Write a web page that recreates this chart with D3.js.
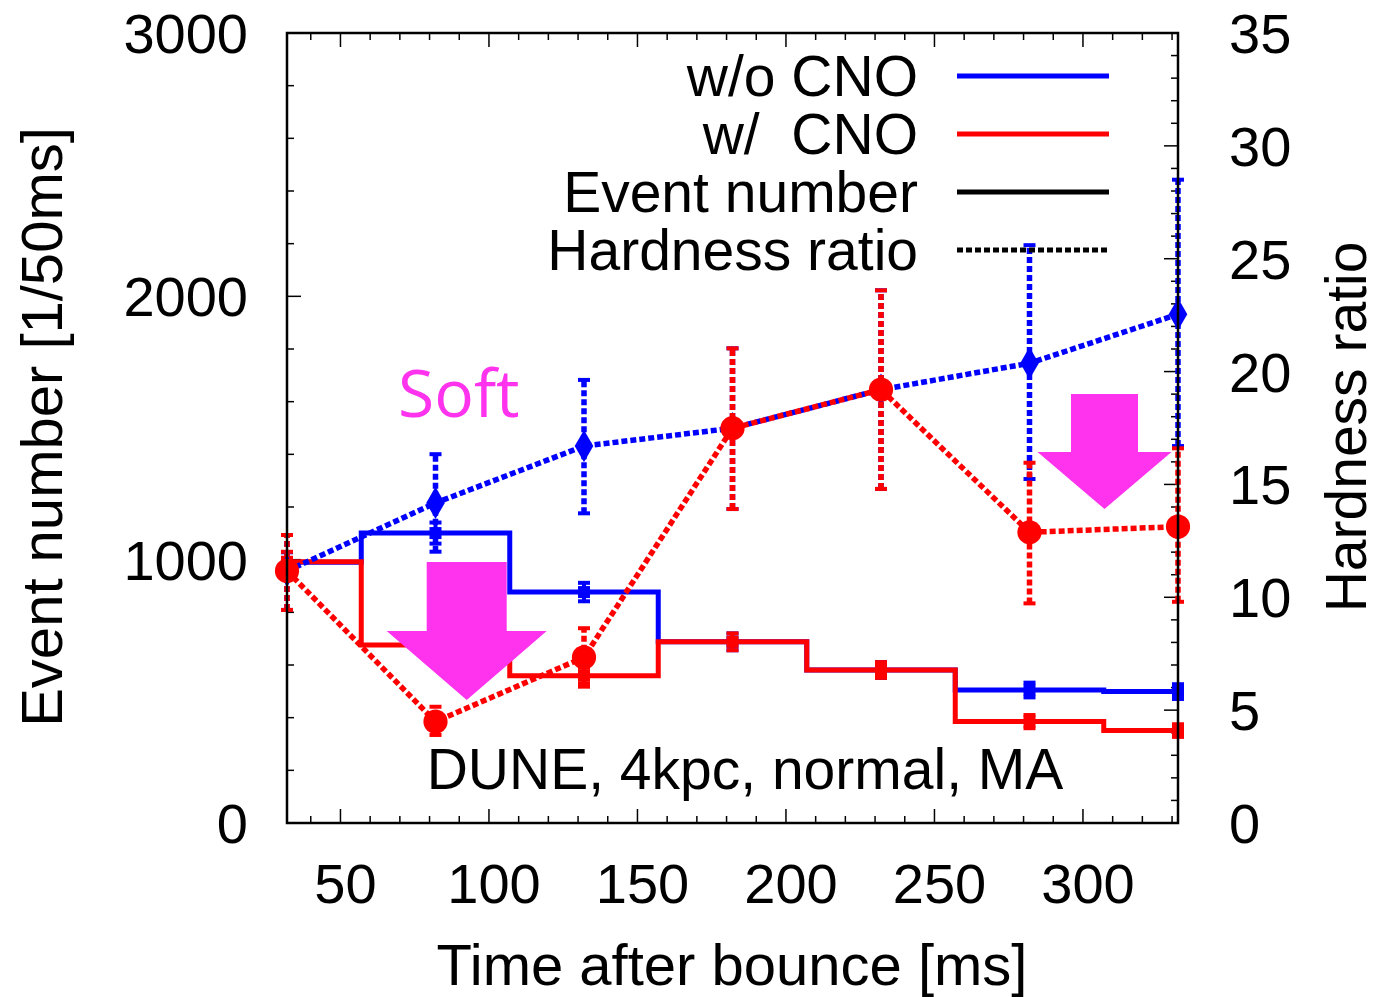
<!DOCTYPE html>
<html>
<head>
<meta charset="utf-8">
<script src="https://cdn.jsdelivr.net/npm/d3@7"></script>
<style>
  body { margin: 0; background: #fff; }
  svg { display: block; font-family: "Liberation Sans", Arial, sans-serif; }
  text { white-space: pre; }
</style>
</head>
<body>
<svg id="chart" width="1379" height="997"></svg>
<script>
// time after bounce (bin centres, ms)
const times = [32, 82, 132, 182, 232, 282, 332];

// event number per 50 ms
const eventsNoCNO = [990, 1101, 877, 688, 581, 505, 499];
const eventsNoCNOErr = [38, 40, 35, 32, 30, 28, 28];
const eventsCNO = [992, 676, 559, 688, 581, 385, 351];
const eventsCNOErr = [38, 32, 30, 32, 30, 25, 24];

// hardness ratio with lower / upper error ends
const hardNoCNO = [11.17, 14.18, 16.7, 17.49, 19.2, 20.37, 22.54];
const hardNoCNOLo = [9.44, 12.02, 13.72, 13.91, 14.8, 15.24, 16.7];
const hardNoCNOHi = [12.76, 16.34, 19.63, 21.03, 23.6, 25.6, 28.5];
const hardCNO = [11.17, 4.49, 7.34, 17.49, 19.2, 12.88, 13.13];
const hardCNOLo = [9.44, 3.9, 6.04, 13.91, 14.8, 9.73, 9.8];
const hardCNOHi = [12.76, 5.15, 8.63, 21.03, 23.6, 15.96, 16.6];

const xTicks = [50, 100, 150, 200, 250, 300];
const yLeftTicks = [0, 1000, 2000, 3000];
const yRightTicks = [0, 5, 10, 15, 20, 25, 30, 35];

const legendItems = ["w/o CNO", "w/  CNO", "Event number", "Hardness ratio"];

const margin = { top: 33, right: 201, bottom: 174, left: 287 };
const width = 1379, height = 997;
const BLUE = "#0000ff", RED = "#ff0000", MAGENTA = "#ff33ee";

const svg = d3.select("#chart");

const x = d3.scaleLinear().domain([32, 332]).range([margin.left, width - margin.right]);
const yL = d3.scaleLinear().domain([0, 3000]).range([height - margin.bottom, margin.top]);
const yR = d3.scaleLinear().domain([0, 35]).range([height - margin.bottom, margin.top]);

const x0 = x.range()[0], x1 = x.range()[1];
const yTop = yL.range()[1], yBot = yL.range()[0];

// ticks (inward)
const tickG = svg.append("g").attr("stroke", "#000").attr("stroke-width", 1.5);
d3.range(40, 331, 10).forEach(t => {
  const len = t % 50 === 0 ? 14 : 7;
  tickG.append("line").attr("x1", x(t)).attr("x2", x(t)).attr("y1", yBot).attr("y2", yBot - len);
  tickG.append("line").attr("x1", x(t)).attr("x2", x(t)).attr("y1", yTop).attr("y2", yTop + len);
});
d3.range(0, 3001, 200).forEach(v => {
  const len = v % 1000 === 0 ? 14 : 7;
  tickG.append("line").attr("x1", x0).attr("x2", x0 + len).attr("y1", yL(v)).attr("y2", yL(v));
});
d3.range(0, 36, 1).forEach(v => {
  const len = v % 5 === 0 ? 14 : 7;
  tickG.append("line").attr("x1", x1).attr("x2", x1 - len).attr("y1", yR(v)).attr("y2", yR(v));
});

// tick labels
const labelSize = 56;
svg.append("g").selectAll("text").data(xTicks).join("text")
  .attr("x", d => x(d) + 5).attr("y", 903)
  .attr("text-anchor", "middle").attr("font-size", labelSize)
  .text(d => d);
svg.append("g").selectAll("text").data(yLeftTicks).join("text")
  .attr("x", 248).attr("y", d => yL(d) + 20)
  .attr("text-anchor", "end").attr("font-size", labelSize)
  .text(d => d);
svg.append("g").selectAll("text").data(yRightTicks).join("text")
  .attr("x", 1229).attr("y", d => yR(d) + 20)
  .attr("text-anchor", "start").attr("font-size", labelSize)
  .text(d => d);

// axis titles
svg.append("text").attr("x", 732).attr("y", 985).attr("text-anchor", "middle")
  .attr("font-size", 58).text("Time after bounce [ms]");
svg.append("text").attr("transform", "translate(62,427) rotate(-90)").attr("text-anchor", "middle")
  .attr("font-size", 58).text("Event number [1/50ms]");
svg.append("text").attr("transform", "translate(1366,427) rotate(-90)").attr("text-anchor", "middle")
  .attr("font-size", 57).text("Hardness ratio");

// label inside plot
svg.append("text").attr("x", 745).attr("y", 789).attr("text-anchor", "middle")
  .attr("font-size", 57).text("DUNE, 4kpc, normal, MA");

// event number histograms (histeps)
const step = d3.line().curve(d3.curveStep);
function drawHist(vals, errs, color) {
  const pts = times.map((t, i) => [x(t), yL(vals[i])]);
  svg.append("path").attr("d", step(pts)).attr("fill", "none")
    .attr("stroke", color).attr("stroke-width", 5);
  const g = svg.append("g").attr("stroke", color).attr("stroke-width", 4);
  times.forEach((t, i) => {
    g.append("line").attr("x1", x(t)).attr("x2", x(t))
      .attr("y1", yL(vals[i] - errs[i])).attr("y2", yL(vals[i] + errs[i]));
    g.append("line").attr("x1", x(t) - 6).attr("x2", x(t) + 6)
      .attr("y1", yL(vals[i] - errs[i])).attr("y2", yL(vals[i] - errs[i]));
    g.append("line").attr("x1", x(t) - 6).attr("x2", x(t) + 6)
      .attr("y1", yL(vals[i] + errs[i])).attr("y2", yL(vals[i] + errs[i]));
  });
  svg.append("g").selectAll("rect").data(times).join("rect")
    .attr("x", d => x(d) - 6).attr("y", (d, i) => yL(vals[i]) - 6)
    .attr("width", 12).attr("height", 12).attr("fill", color);
}
drawHist(eventsNoCNO, eventsNoCNOErr, BLUE);
drawHist(eventsCNO, eventsCNOErr, RED);

// hardness ratio (dotted)
const dash = "6,3";
function drawHard(vals, lo, hi, color, marker) {
  const g = svg.append("g").attr("stroke", color).attr("stroke-width", 5.5)
    .attr("stroke-dasharray", dash).attr("fill", "none");
  times.forEach((t, i) => {
    g.append("line").attr("x1", x(t)).attr("x2", x(t)).attr("y1", yR(lo[i])).attr("y2", yR(hi[i]));
    [lo[i], hi[i]].forEach(v => {
      g.append("line").attr("x1", x(t) - 6).attr("x2", x(t) + 6)
        .attr("y1", yR(v)).attr("y2", yR(v)).attr("stroke-dasharray", "none").attr("stroke-width", 4);
    });
  });
  g.append("path").attr("d", d3.line()(times.map((t, i) => [x(t), yR(vals[i])])));
  const sym = marker === "diamond"
    ? d3.symbol(d3.symbolDiamond, 300)
    : d3.symbol(d3.symbolCircle, 460);
  svg.append("g").selectAll("path").data(times).join("path")
    .attr("transform", (d, i) => `translate(${x(d)},${yR(vals[i])})`)
    .attr("d", sym).attr("fill", color);
}
drawHard(hardNoCNO, hardNoCNOLo, hardNoCNOHi, BLUE, "diamond");
drawHard(hardCNO, hardCNOLo, hardCNOHi, RED, "circle");

// frame
svg.append("rect").attr("x", x0).attr("y", yTop).attr("width", x1 - x0).attr("height", yBot - yTop)
  .attr("fill", "none").attr("stroke", "#000").attr("stroke-width", 2.5);

// legend
const legendY = [76, 134, 192, 250];
const legendStyle = [
  { c: BLUE, d: "none" }, { c: RED, d: "none" }, { c: "#000", d: "none" }, { c: "#000", d: "6,3" }
];
legendItems.forEach((label, i) => {
  svg.append("text").attr("x", 918).attr("y", legendY[i] + 20).attr("text-anchor", "end")
    .attr("font-size", 57).text(label);
  svg.append("line").attr("x1", 957).attr("x2", 1109).attr("y1", legendY[i]).attr("y2", legendY[i])
    .attr("stroke", legendStyle[i].c).attr("stroke-width", 5)
    .attr("stroke-dasharray", legendStyle[i].d);
});

// annotations: "Soft" and arrows
svg.append("text").attr("x", 398).attr("y", 417).attr("font-family", "'Open Sans', sans-serif")
  .attr("font-size", 66).attr("fill", MAGENTA).text("Soft");

function arrow(cx, shaftW, top, headY, headW, tipY) {
  const p = [
    [cx - shaftW / 2, top], [cx + shaftW / 2, top], [cx + shaftW / 2, headY],
    [cx + headW / 2, headY], [cx, tipY], [cx - headW / 2, headY], [cx - shaftW / 2, headY]
  ];
  svg.append("path").attr("d", d3.line()(p) + "Z").attr("fill", MAGENTA);
}
arrow(466.7, 80, 562, 631, 160, 700);
arrow(1104.5, 67, 394, 452, 134, 509);
</script>
</body>
</html>
